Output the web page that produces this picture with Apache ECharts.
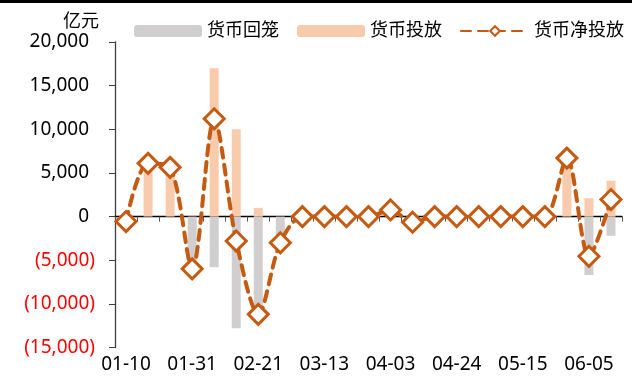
<!DOCTYPE html>
<html>
<head>
<meta charset="utf-8">
<script src="https://cdn.jsdelivr.net/npm/echarts@6/dist/echarts.min.js"></script>
<style>
html,body{margin:0;padding:0;background:#fff;}
#chart{width:632px;height:376px;}
</style>
</head>
<body>
<div id="chart"></div>
<script>
const categories = ['01-10','01-17','01-24','01-31','02-07','02-14','02-21','02-28','03-06','03-13','03-20','03-27','04-03','04-10','04-17','04-24','05-01','05-08','05-15','05-22','05-29','06-05','06-12'];
const withdrawal = [-600, 0, 0, -6000, -5800, -12800, -12200, -3000, 0, 0, 0, 0, 0, -650, 0, 0, 0, 0, 0, 0, 0, -6700, -2200];
const injection = [0, 6100, 5600, 0, 17000, 10000, 1000, 0, 0, 0, 0, 0, 700, 0, 0, 0, 0, 0, 0, 0, 6700, 2100, 4100];
const netInjection = [-570, 6100, 5640, -5990, 11200, -2800, -11200, -3000, 0, 0, 0, 0, 760, -650, 0, 0, 0, 0, 0, 0, 6700, -4550, 1950];
const yTicks = {min: -15000, max: 20000, interval: 5000};
const unitLabel = '亿元';
const seriesNames = ['货币回笼', '货币投放', '货币净投放'];

const FONT = "'Noto Sans', 'Noto Sans CJK SC', sans-serif";
function fmt(v){ return Math.abs(v).toString().replace(/\B(?=(\d{3})+(?!\d))/g, ','); }

const chart = echarts.init(document.getElementById('chart'), null, {renderer: 'canvas'});
chart.setOption({
  animation: false,
  backgroundColor: '#fff',
  graphic: [
    {type: 'rect', left: 0, top: 0, shape: {x: 0, y: 0, width: 632, height: 3}, style: {fill: '#000'}},
    {type: 'text', left: 63, top: 13, style: {text: unitLabel, font: '18px ' + FONT, fill: '#000'}}
  ],
  legend: {
    left: 129, top: 17,
    itemWidth: 68, itemHeight: 12, itemGap: 18,
    textStyle: {fontFamily: FONT, fontSize: 18, color: '#000'},
    data: seriesNames
  },
  grid: {left: 115, right: 10, top: 42, bottom: 28.5, containLabel: false},
  xAxis: [
    {
      type: 'category', data: categories, position: 'bottom',
      axisLine: {show: false, onZero: false},
      axisTick: {show: false},
      axisLabel: {interval: 2, fontFamily: FONT, fontSize: 19, color: '#000', margin: 8}
    },
    {
      type: 'category', data: categories, position: 'bottom',
      axisLine: {show: true, onZero: true, lineStyle: {color: '#000', width: 1.3}},
      axisTick: {show: true, interval: 0, length: 5, lineStyle: {color: '#555'}},
      axisLabel: {show: false}
    }
  ],
  yAxis: {
    type: 'value', min: yTicks.min, max: yTicks.max, interval: yTicks.interval,
    axisLine: {show: true, lineStyle: {color: '#404040', width: 1.3}},
    axisTick: {show: true, length: 6, lineStyle: {color: '#404040'}},
    splitLine: {show: false},
    axisLabel: {
      margin: 20,
      formatter: function(v){ return v < 0 ? '{n|(' + fmt(v) + ')}' : '{p|' + fmt(v) + '}'; },
      rich: {
        n: {fontFamily: FONT, fontSize: 19, color: '#FF0000'},
        p: {fontFamily: FONT, fontSize: 19, color: '#000', padding: [0, 6, 0, 0]}
      }
    }
  },
  series: [
    {
      name: seriesNames[0], type: 'bar', data: withdrawal, barWidth: 9, barGap: '-100%',
      itemStyle: {color: '#D0CECE'}
    },
    {
      name: seriesNames[1], type: 'bar', data: injection, barWidth: 9, barGap: '-100%',
      itemStyle: {color: '#F8CBAD'}
    },
    {
      name: seriesNames[2], type: 'line', data: netInjection, smooth: 0.3,
      symbol: 'diamond', symbolSize: 20, showAllSymbol: true,
      lineStyle: {color: '#C55A11', width: 4, type: [10, 7], cap: 'round'},
      itemStyle: {color: '#fff', borderColor: '#C55A11', borderWidth: 3},
      z: 5
    }
  ]
});
</script>
</body>
</html>
